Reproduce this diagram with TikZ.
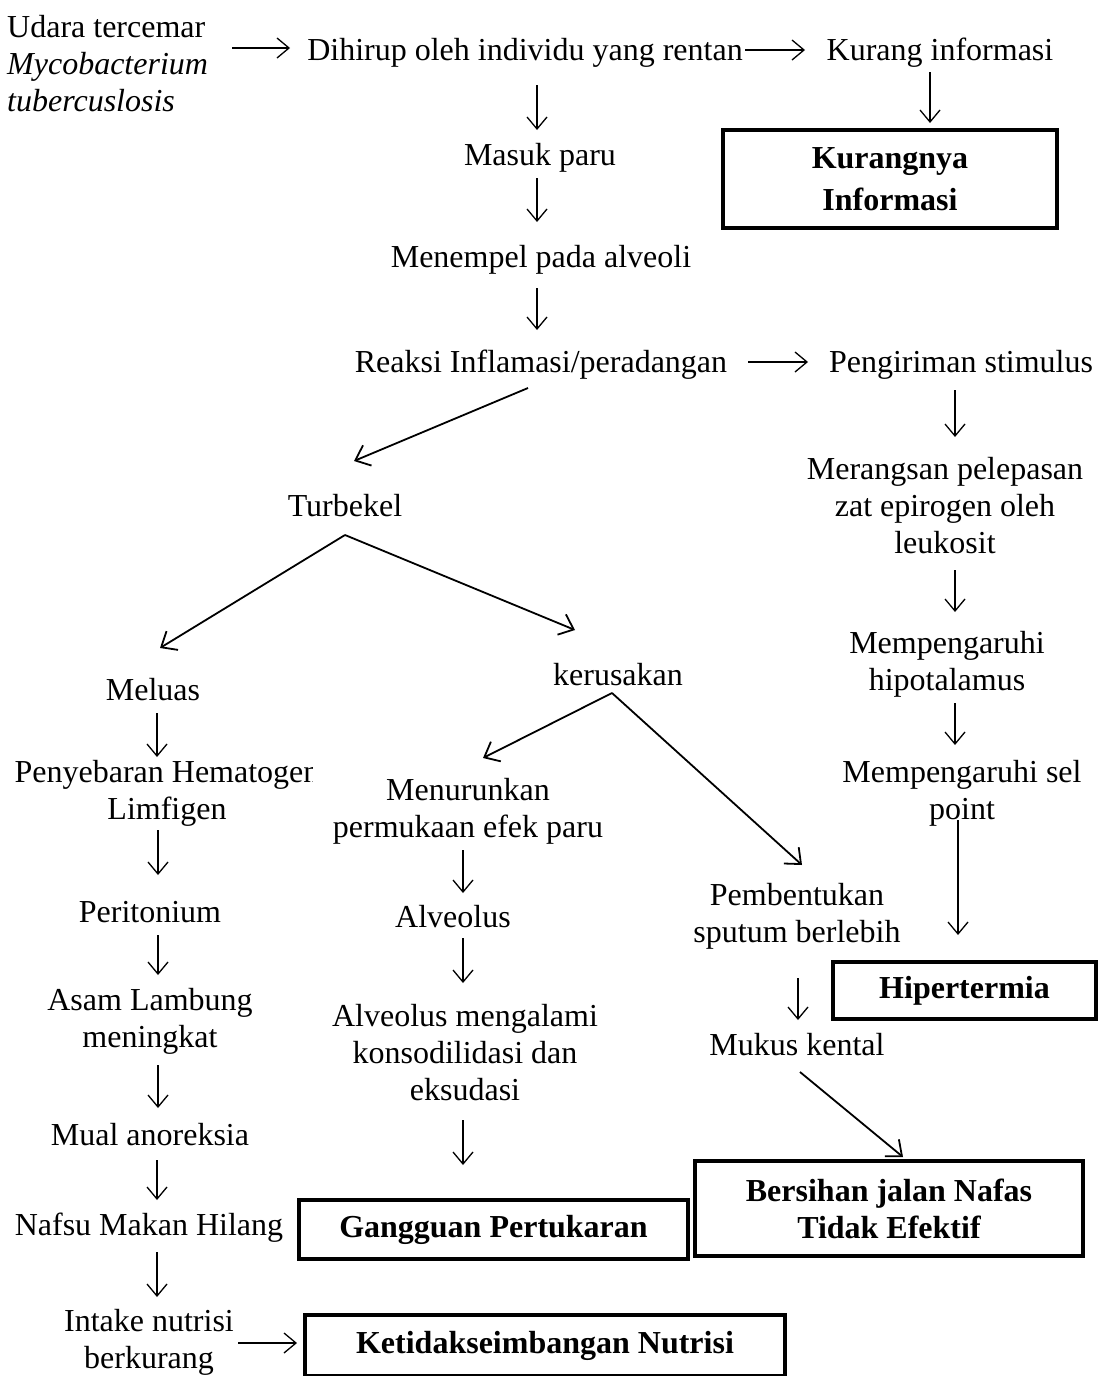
\documentclass[tikz,border=0pt]{standalone}
\usepackage{fontspec}
\setmainfont{Liberation Serif}
\usetikzlibrary{arrows.meta}
\tikzset{
  txt/.style={font=\fontsize{32}{37}\selectfont, align=center, inner sep=0pt, yshift=-3pt},
  bx/.style={draw, line width=4pt, font=\fontsize{32}{37}\selectfont\bfseries, align=center, inner sep=0pt},
  arr/.style={-{Straight Barb[length=12pt,width=20pt]}, line width=1.3pt},
  darr/.style={-{Straight Barb[length=13pt,width=22pt]}, line width=1.8pt}
}
\begin{document}
\begin{tikzpicture}[x=1pt,y=-1pt]
\useasboundingbox (0,0) rectangle (1105,1376);
% text nodes
\node[txt, align=left, anchor=west] (udara) at (7,61) {Udara tercemar\\\textit{Mycobacterium}\\\textit{tubercuslosis}};
\node[txt] (dihirup) at (525,50) {Dihirup oleh individu yang rentan};
\node[txt] (kurang) at (940,50) {Kurang informasi};
\node[txt] (masuk) at (540,155) {Masuk paru};
\node[txt] (menempel) at (541,257) {Menempel pada alveoli};
\node[txt] (reaksi) at (541,362) {Reaksi Inflamasi/peradangan};
\node[txt] (pengiriman) at (961,362) {Pengiriman stimulus};
\node[txt] (merangsan) at (945,503) {Merangsan pelepasan\\zat epirogen oleh\\leukosit};
\node[txt] (hipo) at (947,661) {Mempengaruhi\\hipotalamus};
\node[txt] (selpoint) at (962,790) {Mempengaruhi sel\\point};
\node[txt] (turbekel) at (345,503) {Turbekel};
\node[txt] (meluas) at (153,687) {Meluas};
\begin{scope}
\clip (0,740) rectangle (312,840);
\node[txt] (penyebaran) at (167,790) {Penyebaran Hematogen\\Limfigen};
\end{scope}
\node[txt] (peritonium) at (150,909) {Peritonium};
\node[txt] (asam) at (150,1018) {Asam Lambung\\meningkat};
\node[txt] (mual) at (150,1132) {Mual anoreksia};
\node[txt] (nafsu) at (149,1225) {Nafsu Makan Hilang};
\node[txt] (intake) at (149,1339) {Intake nutrisi\\berkurang};
\node[txt] (kerusakan) at (618,672) {kerusakan};
\node[txt] (menurunkan) at (468,808) {Menurunkan\\permukaan efek paru};
\node[txt] (alveolus) at (453,914) {Alveolus};
\node[txt] (alvmeng) at (465,1050) {Alveolus mengalami\\konsodilidasi dan\\eksudasi};
\node[txt] (pembentukan) at (797,913) {Pembentukan\\sputum berlebih};
\node[txt] (mukus) at (797,1042) {Mukus kental};
% boxes
\node[bx, minimum width=334pt, minimum height=98pt, font=\fontsize{32}{42}\selectfont\bfseries] (kurangnya) at (890,179) {Kurangnya\\Informasi};
\node[bx, minimum width=263pt, minimum height=57pt] (hipertermia) at (964.5,990.5) {Hipertermia};
\node[bx, minimum width=388pt, minimum height=95pt] (bersihan) at (889,1208.5) {Bersihan jalan Nafas\\Tidak Efektif};
\node[bx, minimum width=389pt, minimum height=59pt] (gangguan) at (493.5,1229.5) {Gangguan Pertukaran};
\node[bx, minimum width=480pt, minimum height=61pt] (ketidak) at (545,1345.5) {Ketidakseimbangan Nutrisi};
% connector end points
\coordinate (a1s) at (537,85);  \coordinate (a1e) at (537,130);
\coordinate (a2s) at (930,72);  \coordinate (a2e) at (930,123);
\coordinate (a3s) at (537,178); \coordinate (a3e) at (537,222);
\coordinate (a4s) at (537,288); \coordinate (a4e) at (537,330);
\coordinate (a5s) at (955,390); \coordinate (a5e) at (955,437);
\coordinate (a6s) at (955,570); \coordinate (a6e) at (955,612);
\coordinate (a7s) at (955,703); \coordinate (a7e) at (955,745);
\coordinate (a8s) at (958,820); \coordinate (a8e) at (958,935);
\coordinate (a9s) at (157,713); \coordinate (a9e) at (157,757);
\coordinate (a10s) at (158,830); \coordinate (a10e) at (158,875);
\coordinate (a11s) at (158,935); \coordinate (a11e) at (158,975);
\coordinate (a12s) at (158,1065); \coordinate (a12e) at (158,1108);
\coordinate (a13s) at (157,1160); \coordinate (a13e) at (157,1200);
\coordinate (a14s) at (157,1252); \coordinate (a14e) at (157,1297);
\coordinate (a15s) at (463,850); \coordinate (a15e) at (463,893);
\coordinate (a16s) at (463,938); \coordinate (a16e) at (463,983);
\coordinate (a17s) at (463,1120); \coordinate (a17e) at (463,1165);
\coordinate (a18s) at (798,978); \coordinate (a18e) at (798,1020);
\coordinate (h1s) at (232,48); \coordinate (h1e) at (290,48);
\coordinate (h2s) at (745,50); \coordinate (h2e) at (805,50);
\coordinate (h3s) at (748,362); \coordinate (h3e) at (808,362);
\coordinate (h4s) at (238,1343); \coordinate (h4e) at (297,1343);
\coordinate (d1s) at (528,388); \coordinate (d1e) at (354,461);
\coordinate (tapex) at (345,535); \coordinate (tl) at (160,648); \coordinate (tr) at (575,630);
\coordinate (kapex) at (612,693); \coordinate (kl) at (483,758); \coordinate (kr) at (802,865);
\coordinate (ms) at (800,1072); \coordinate (me) at (903,1157);
% vertical connectors
\foreach \i in {1,...,18} {\draw[arr] (a\i s) -- (a\i e);}
% horizontal connectors
\foreach \i in {1,...,4} {\draw[arr] (h\i s) -- (h\i e);}
% diagonal connectors
\draw[darr] (d1s) -- (d1e);
\draw[darr] (tapex) -- (tl);
\draw[darr] (tapex) -- (tr);
\draw[darr] (kapex) -- (kl);
\draw[darr] (kapex) -- (kr);
\draw[darr] (ms) -- (me);
\end{tikzpicture}
\end{document}
